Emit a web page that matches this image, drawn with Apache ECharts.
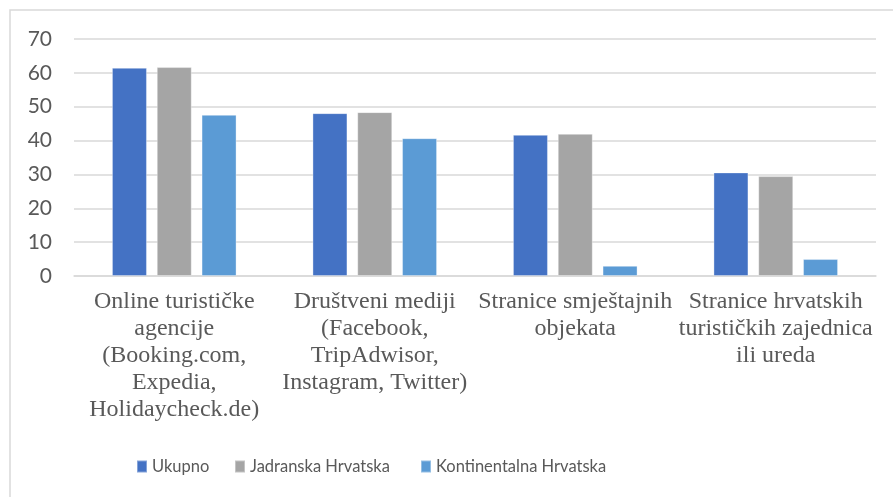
<!DOCTYPE html>
<html><head><meta charset="utf-8">
<script src="https://cdn.jsdelivr.net/npm/echarts@6/dist/echarts.min.js"></script>
<style>html,body{margin:0;padding:0;background:#fff}#c{width:893px;height:497px}</style>
</head><body><div id="c"></div>
<script>
const categories = [
  "Online turističke\nagencije\n(Booking.com,\nExpedia,\nHolidaycheck.de)",
  "Društveni mediji\n(Facebook,\nTripAdwisor,\nInstagram, Twitter)",
  "Stranice smještajnih\nobjekata",
  "Stranice hrvatskih\nturističkih zajednica\nili ureda"
];
const seriesNames = ["Ukupno", "Jadranska Hrvatska", "Kontinentalna Hrvatska"];
const ukupno = [61.5, 48.1, 41.7, 30.6];
const jadranska = [61.7, 48.4, 42.0, 29.5];
const kontinentalna = [47.6, 40.7, 3.0, 5.0];
const yTicks = { min: 0, max: 70, interval: 10 };

const colors = ["#4472C4", "#A5A5A5", "#5B9BD5"];
const values = [ukupno, jadranska, kontinentalna];
const legendLefts = [136, 234, 420];
const sansFont = "Lato, 'Liberation Sans', Arial, sans-serif";

const chart = echarts.init(document.getElementById('c'), null, { renderer: 'canvas' });
chart.setOption({
  animation: false,
  backgroundColor: '#fff',
  color: colors,
  graphic: [{
    type: 'rect', silent: true,
    shape: { x: 10, y: 10, width: 900, height: 500 },
    style: { fill: 'none', stroke: '#d9d9d9', lineWidth: 1.5 }
  }],
  legend: seriesNames.map((n, i) => ({
    data: [n], left: legendLefts[i], top: 458, padding: 0,
    itemWidth: 10, itemHeight: 12, itemGap: 5,
    icon: 'rect',
    textStyle: { color: '#595959', fontSize: 16.5, fontFamily: sansFont }
  })),
  grid: { left: 74, right: 17, top: 39, bottom: 221, containLabel: false },
  xAxis: {
    type: 'category', data: categories,
    axisLine: { show: true, lineStyle: { color: '#d9d9d9', width: 1.5 } },
    axisTick: { show: false },
    axisLabel: {
      interval: 0, margin: 12, color: '#595959',
      fontFamily: "'Liberation Serif', 'Times New Roman', serif",
      fontSize: 24, lineHeight: 27, align: 'center'
    }
  },
  yAxis: {
    type: 'value', min: yTicks.min, max: yTicks.max, interval: yTicks.interval,
    axisLine: { show: false }, axisTick: { show: false },
    splitLine: { lineStyle: { color: '#d9d9d9', width: 1.5 } },
    axisLabel: { margin: 22, color: '#595959', fontSize: 21, fontFamily: sansFont }
  },
  series: seriesNames.map((n, i) => ({
    name: n, type: 'bar', data: values[i],
    barWidth: 35, barGap: '28%',
    itemStyle: { color: colors[i], borderColor: 'rgba(255,255,255,0.35)', borderWidth: 1 }
  }))
});
</script></body></html>
